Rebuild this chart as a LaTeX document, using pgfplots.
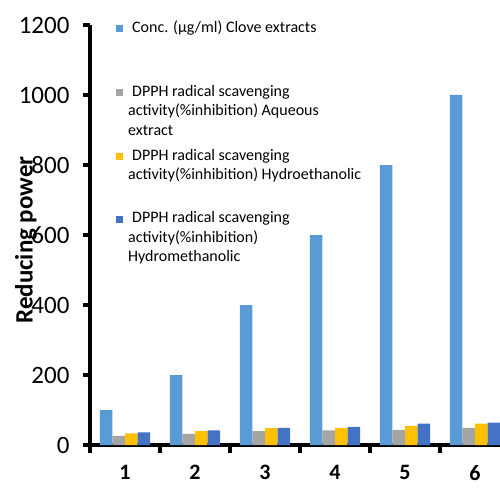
\documentclass[border=0pt]{standalone}
\usepackage{pgfplots}
\pgfplotsset{compat=1.18}
\usepackage{fontspec}
\setmainfont{Carlito}

\definecolor{cblue}{HTML}{5B9BD5}
\definecolor{cgray}{HTML}{A5A5A5}
\definecolor{cyellow}{HTML}{FFC000}
\definecolor{cdblue}{HTML}{4472C4}

\newcommand{\sq}[1]{\textcolor{#1}{\rule{7pt}{7pt}}}

\begin{document}
\begin{tikzpicture}
\begin{axis}[
    scale only axis,
    width=410pt, height=420pt,
    clip=false,
    ybar=0pt, bar width=12.6pt,
    xmin=0.5, xmax=6.357,
    ymin=0, ymax=1200,
    axis lines*=left,
    axis line style={line width=3.5pt, black},
    xtick={1,2,3,4,5,6},
    minor xtick={0.5,1.5,2.5,3.5,4.5,5.5},
    ytick={0,200,400,600,800,1000,1200},
    tick align=outside,
    major x tick style={draw=none},
    minor x tick style={line width=3.5pt, black},
    major y tick style={line width=3.5pt, black},
    major tick length=7pt,
    minor tick length=8pt,
    /pgf/number format/assume math mode=true,
    /pgf/number format/1000 sep={},
    yticklabel style={font=\fontsize{25}{30}\selectfont, xshift=-10pt},
    xticklabel style={font=\bfseries\fontsize{22}{26}\selectfont, yshift=-10pt},
    ylabel={\bfseries Reducing power},
    ylabel style={font=\fontsize{25}{30}\selectfont, at={(axis description cs:-0.156,0.488)}, anchor=center},
]
\addplot[fill=cblue, draw=none] coordinates {(1,100)(2,200)(3,400)(4,600)(5,800)(6,1000)};
\addplot[fill=cgray, draw=none] coordinates {(1,26)(2,32)(3,40)(4,42)(5,43)(6,49)};
\addplot[fill=cyellow, draw=none] coordinates {(1,33)(2,40)(3,48)(4,49)(5,55)(6,61)};
\addplot[fill=cdblue, draw=none] coordinates {(1,36)(2,42)(3,49)(4,52)(5,61)(6,64)};

% legend, laid out like the original's uneven spacing
\node[anchor=base west, inner sep=0pt, font=\fontsize{16}{19.5}\selectfont]
  at (axis description cs:0.0634,0.9833) {%
  \begin{tabular}[t]{@{}l@{\hspace{5pt}}l@{}}
  \sq{cblue} & \hspace{4pt}Conc. (µg/ml) Clove extracts\\[44.5pt]
  \sq{cgray} & \hspace{4pt}DPPH radical scavenging\\
             & activity(\%inhibition) Aqueous\\
             & extract\\[5.5pt]
  \sq{cyellow} & \hspace{4pt}DPPH radical scavenging\\
               & activity(\%inhibition) Hydroethanolic\\[23.5pt]
  \sq{cdblue} & \hspace{4pt}DPPH radical scavenging\\
              & activity(\%inhibition)\\
              & Hydromethanolic
  \end{tabular}};
\end{axis}
\pgfresetboundingbox
\path ([shift={(-90pt,-43pt)}]current axis.south west) rectangle ([shift={(0pt,25pt)}]current axis.north east);
\end{tikzpicture}
\end{document}
